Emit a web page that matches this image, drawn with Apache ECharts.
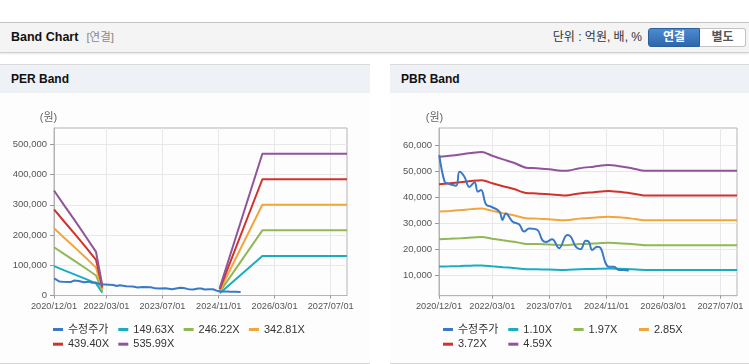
<!DOCTYPE html>
<html>
<head>
<meta charset="utf-8">
<script src="https://cdn.jsdelivr.net/npm/echarts@6/dist/echarts.min.js"></script>
<style>
body{margin:0;width:749px;height:364px;overflow:hidden;background:#fff;position:relative;
  font-family:"Liberation Sans","Noto Sans CJK KR",sans-serif}
.a{position:absolute}
#topline{left:0;top:22px;width:749px;height:1px;background:#c6c6c6}
#bar{left:0;top:23px;width:749px;height:29px;background:#f4f4f4;border-bottom:1px solid #d0d0d0;box-shadow:0 1px 2px rgba(0,0,0,0.10)}
#title{left:11px;top:23px;line-height:29px;font-size:12.5px;font-weight:bold;color:#111}
#title span{font-weight:normal;color:#8a8a8a;font-size:11.5px;margin-left:8px}
#unit{right:107px;top:23px;line-height:29px;font-size:12px;color:#333}
#b1{left:648px;top:28px;width:52px;height:19px;box-sizing:border-box;border:1px solid #2b5f9c;border-radius:3px 0 0 3px;
  background:linear-gradient(#4b8bd1,#2d67ac);color:#fff;font-weight:bold;font-size:12px;text-align:center;line-height:17px}
#b2{left:700px;top:28px;width:46px;height:19px;box-sizing:border-box;border:1px solid #c2c2c2;border-left:none;border-radius:0 3px 3px 0;
  background:#fff;color:#555;font-weight:bold;font-size:12px;text-align:center;line-height:17px}
.panel{top:64px;height:298px;border-top:1px solid #dadada;border-bottom:1px solid #d6d6d6;background:#fdfdfe}
.ph{top:65px;height:28px;background:#eef1f6;line-height:28px;font-size:12px;font-weight:bold;color:#111;box-sizing:border-box;padding-left:11px}
#chart{left:0;top:0;width:749px;height:364px}
</style>
</head>
<body>
<div class="a" id="topline"></div>
<div class="a" id="bar"></div>
<div class="a" id="title">Band Chart<span>[연결]</span></div>
<div class="a" id="unit">단위 : 억원, 배, %</div>
<div class="a" id="b1">연결</div>
<div class="a" id="b2">별도</div>
<div class="a panel" style="left:0;width:370px"></div>
<div class="a ph" style="left:0;width:370px">PER Band</div>
<div class="a panel" style="left:390px;width:359px"></div>
<div class="a ph" style="left:390px;width:359px">PBR Band</div>
<div class="a" id="chart"></div>
<script>
// x축 눈금 (16개월 간격)
var tickDates = ['2020-12-01','2022-03-01','2023-07-01','2024-11-01','2026-03-01','2027-07-01'];
var xMin = '2020-12-01', xMax = '2027-11-20';
var perTicks = [0,100000,200000,300000,400000,500000];
var pbrTicks = [10000,20000,30000,40000,50000,60000];

// 수정주가
var priceDates = ['2020-12-03','2021-01-18','2021-02-15','2021-04-25','2021-05-25','2021-07-05','2021-08-18',
  '2021-10-01','2021-10-28','2021-11-25','2022-01-07','2022-02-18','2022-05-01','2022-05-28','2022-06-25',
  '2022-08-22','2022-10-16','2022-11-28','2023-01-10','2023-03-22','2023-05-01','2023-06-01','2023-07-25',
  '2023-09-22','2023-12-01','2024-01-01','2024-02-12','2024-03-25','2024-05-06','2024-06-03','2024-07-01',
  '2024-08-12','2024-09-12','2024-10-24','2024-11-21','2025-01-03','2025-02-15','2025-03-28','2025-05-10'];
var priceVals = [56300,46000,45300,44500,49800,48000,44000,45800,42200,42800,37200,36400,34500,31300,33800,
  30600,29600,26800,28000,27400,23600,22800,23800,20400,25500,24800,21000,20000,23300,22900,19700,
  21000,20500,14600,13300,13300,12000,12000,11800];

// PER 밴드
var perNames = ['149.63X','246.22X','342.81X','439.40X','535.99X'];
var perDates = ['2020-12-01','2021-03-01','2021-06-01','2021-09-01','2021-12-01','2022-01-25',
  '2023-06-01','2024-11-10','2025-11-15','2027-11-20'];
var per1 = [96960, 83050, 69130, 54770, 40250, 8980, null, 7180, 130930, 130930];
var per2 = [159550,136650,113750, 90120, 66230,14770, null,11820, 215440, 215440];
var per3 = [222140,190260,158380,125470, 92220,20570, null,16450, 299960, 299960];
var per4 = [284730,243870,203000,160820,118200,26360, null,21090, 384480, 384480];
var per5 = [347320,297470,247630,196170,144180,32160, null,25730, 468990, 468990];

// PBR 밴드
var pbrNames = ['1.10X','1.97X','2.85X','3.72X','4.59X'];
var pbrDates = ['2020-12-01','2021-03-01','2021-06-01','2021-09-01','2021-12-01','2022-03-01','2022-06-01',
  '2022-09-01','2022-12-15','2023-03-15','2023-07-01','2023-11-15','2024-03-15','2024-07-15','2024-11-15',
  '2025-02-15','2025-06-05','2025-10-01','2027-11-20'];
var pbr1 = [13330,13420,13540,13680,13780,13420,13090,12770,12320,12270,12170,12030,12270,12410,12560,12460,12270,12030,12030];
var pbr2 = [23860,24040,24250,24510,24680,24040,23430,22880,22060,21980,21800,21550,21980,22230,22490,22320,21980,21550,21550];
var pbr3 = [34520,34770,35080,35450,35700,34770,33900,33100,31920,31790,31540,31170,31790,32160,32540,32290,31790,31170,31170];
var pbr4 = [45060,45390,45790,46280,46600,45390,44250,43200,41660,41500,41170,40690,41500,41980,42470,42140,41500,40690,40690];
var pbr5 = [55600,56000,56500,57100,57500,56000,54600,53300,51400,51200,50800,50200,51200,51800,52400,52000,51200,50200,50200];

var colors = ['#3a79c8','#1aadc2','#92b853','#f2a53a','#d1322c','#91549a'];
var font = '"Liberation Sans","Noto Sans CJK KR",sans-serif';

function ts(s){ return echarts.number.parseDate(s).getTime(); }

function pairs(d, v){
  var out = [];
  for (var i = 0; i < d.length; i++) out.push([ts(d[i]), v[i]]);
  return out;
}

var tickTs = tickDates.map(ts);

function xAxisOf(idx){
  return {
    type:'value', gridIndex:idx, min:ts(xMin), max:ts(xMax),
    axisLine:{show:true, lineStyle:{color:'#b4b4b4'}},
    axisTick:{show:true, customValues:tickTs, length:3, lineStyle:{color:'#999'}},
    axisLabel:{customValues:tickTs, color:'#555', fontSize:9.2, fontFamily:font, margin:6,
      formatter:function(v){ return echarts.time.format(v, '{yyyy}/{MM}/{dd}', false); }},
    splitLine:{show:true, lineStyle:{color:'#e8e8e8'}}
  };
}

function yAxisOf(idx, min, max, ticks, pad){
  return {
    type:'value', gridIndex:idx, min:min, max:max,
    name:'(원)', nameLocation:'end', nameGap:5,
    nameTextStyle:{color:'#666', fontSize:11, fontFamily:font, padding:[0,pad,0,0]},
    axisLine:{show:true, lineStyle:{color:'#b4b4b4'}},
    axisTick:{show:true, customValues:ticks, length:4, lineStyle:{color:'#999'}},
    axisLabel:{customValues:ticks, color:'#555', fontSize:9.5, fontFamily:font, margin:7,
      formatter:function(v){ return echarts.format.addCommas(v); }},
    splitLine:{show:true, lineStyle:{color:'#e8e8e8'}}
  };
}

// 범례: 항목마다 고정 칸 (4개씩 한 줄)
function legendsOf(left, names){
  var all = ['수정주가'].concat(names);
  var out = [];
  for (var i = 0; i < all.length; i++) {
    out.push({
      left:left + (i % 4) * 65.3, top:324 + Math.floor(i / 4) * 14.7,
      padding:0, itemWidth:10, itemHeight:3, icon:'rect', selectedMode:false,
      textStyle:{fontSize:11, color:'#333', fontFamily:font},
      data:[all[i]]
    });
  }
  return out;
}

function lineOf(name, idx, data, color, smooth){
  return {
    name:name, type:'line', xAxisIndex:idx, yAxisIndex:idx, data:data,
    showSymbol:false, symbol:'none', smooth:smooth, connectNulls:false,
    lineStyle:{width:2, color:color}, itemStyle:{color:color}
  };
}

var perVals = [per1, per2, per3, per4, per5];
var pbrVals = [pbr1, pbr2, pbr3, pbr4, pbr5];
var series = [];
for (var i = 0; i < 5; i++) {
  series.push(lineOf(perNames[i], 0, pairs(perDates, perVals[i]), colors[i+1], false));
}
series.push(lineOf('수정주가', 0, pairs(priceDates, priceVals), colors[0], false));
for (var i = 0; i < 5; i++) {
  series.push(lineOf(pbrNames[i], 1, pairs(pbrDates, pbrVals[i]), colors[i+1], 0.3));
}
series.push(lineOf('수정주가', 1, pairs(priceDates, priceVals), colors[0], 0.4));

var myChart = echarts.init(document.getElementById('chart'));
var option = {
  animation:false,
  grid:[
    {left:54, top:128, width:293, height:167.5, show:true, borderColor:'#b4b4b4', borderWidth:1},
    {left:439, top:128, width:298, height:167.7, show:true, borderColor:'#b4b4b4', borderWidth:1}
  ],
  xAxis:[xAxisOf(0), xAxisOf(1)],
  yAxis:[yAxisOf(0, 0, 554000, perTicks, 11), yAxisOf(1, 2100, 66700, pbrTicks, 9)],
  legend:legendsOf(53, perNames).concat(legendsOf(443, pbrNames)),
  series:series
};
myChart.setOption(option);
</script>
</body>
</html>
